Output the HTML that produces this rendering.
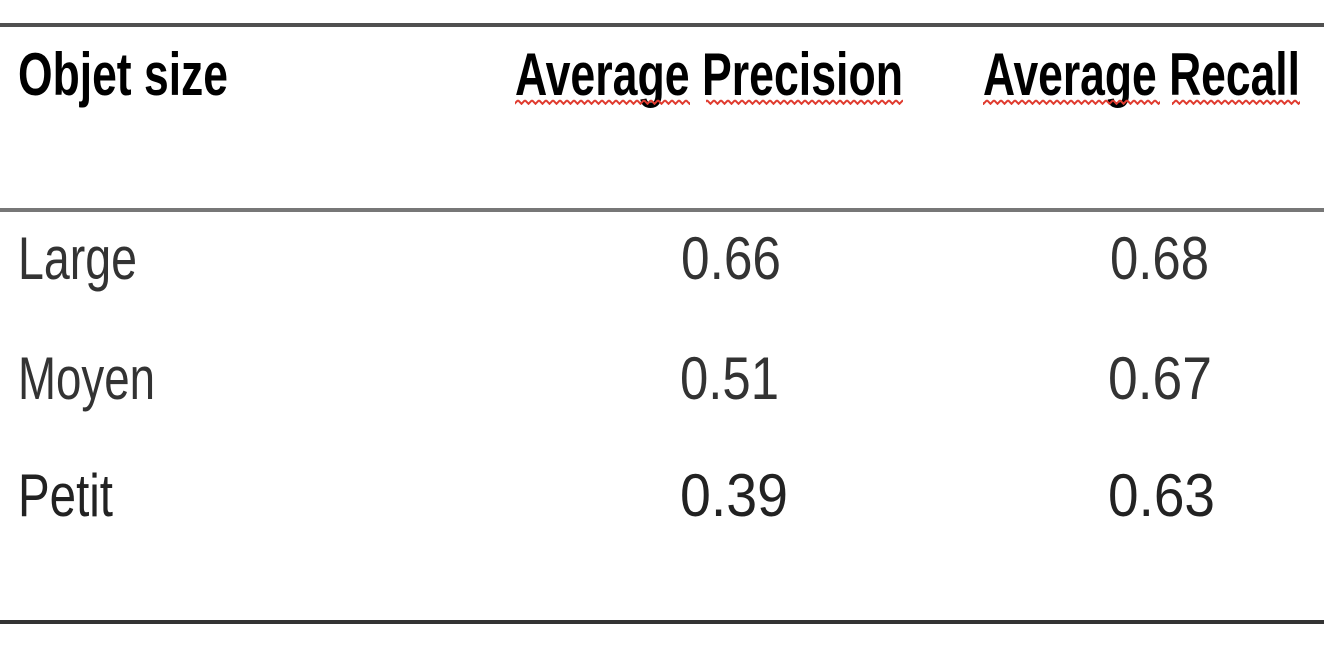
<!DOCTYPE html>
<html><head><meta charset="utf-8"><style>
html,body{margin:0;padding:0;background:#fff;width:1324px;height:654px;overflow:hidden}
</style></head><body>
<svg width="1324" height="654" viewBox="0 0 1324 654" style="font-family:'Liberation Sans',sans-serif">
<defs>
<pattern id="wave" x="0" y="99" width="7" height="6" patternUnits="userSpaceOnUse">
<path d="M0 1.2 L3.5 4.8 L7 1.2" fill="none" stroke="#e03a2e" stroke-width="2"/>
</pattern>
</defs>
<rect x="0" y="23" width="1324" height="4" fill="#505050"/>
<rect x="0" y="208" width="1324" height="4" fill="#777"/>
<rect x="0" y="620" width="1324" height="4" fill="#333"/>

<g font-weight="bold" font-size="60" fill="#000">
<text x="18" y="95" textLength="210" lengthAdjust="spacingAndGlyphs">Objet size</text>
<text x="515" y="95" textLength="388" lengthAdjust="spacingAndGlyphs">Average Precision</text>
<text x="983" y="95" textLength="317" lengthAdjust="spacingAndGlyphs">Average Recall</text>
</g>
<g>
<rect x="515" y="99" width="175" height="6" fill="url(#wave)"/>
<rect x="706" y="99" width="197" height="6" fill="url(#wave)"/>
<rect x="983" y="99" width="177" height="6" fill="url(#wave)"/>
<rect x="1172" y="99" width="128" height="6" fill="url(#wave)"/>
</g>

<g font-size="60" fill="#333">
<text x="18" y="279" textLength="119" lengthAdjust="spacingAndGlyphs">Large</text>
<text x="681" y="279" textLength="100" lengthAdjust="spacingAndGlyphs">0.66</text>
<text x="1110" y="279" textLength="99" lengthAdjust="spacingAndGlyphs">0.68</text>

<text x="18" y="399" textLength="137" lengthAdjust="spacingAndGlyphs">Moyen</text>
<text x="680" y="399" textLength="99" lengthAdjust="spacingAndGlyphs">0.51</text>
<text x="1108" y="399" textLength="104" lengthAdjust="spacingAndGlyphs">0.67</text>
</g>
<g font-size="60" fill="#222">
<text x="18" y="516" textLength="95" lengthAdjust="spacingAndGlyphs">Petit</text>
<text x="680" y="516" textLength="108" lengthAdjust="spacingAndGlyphs">0.39</text>
<text x="1108" y="516" textLength="107" lengthAdjust="spacingAndGlyphs">0.63</text>
</g>
</svg>
</body></html>
